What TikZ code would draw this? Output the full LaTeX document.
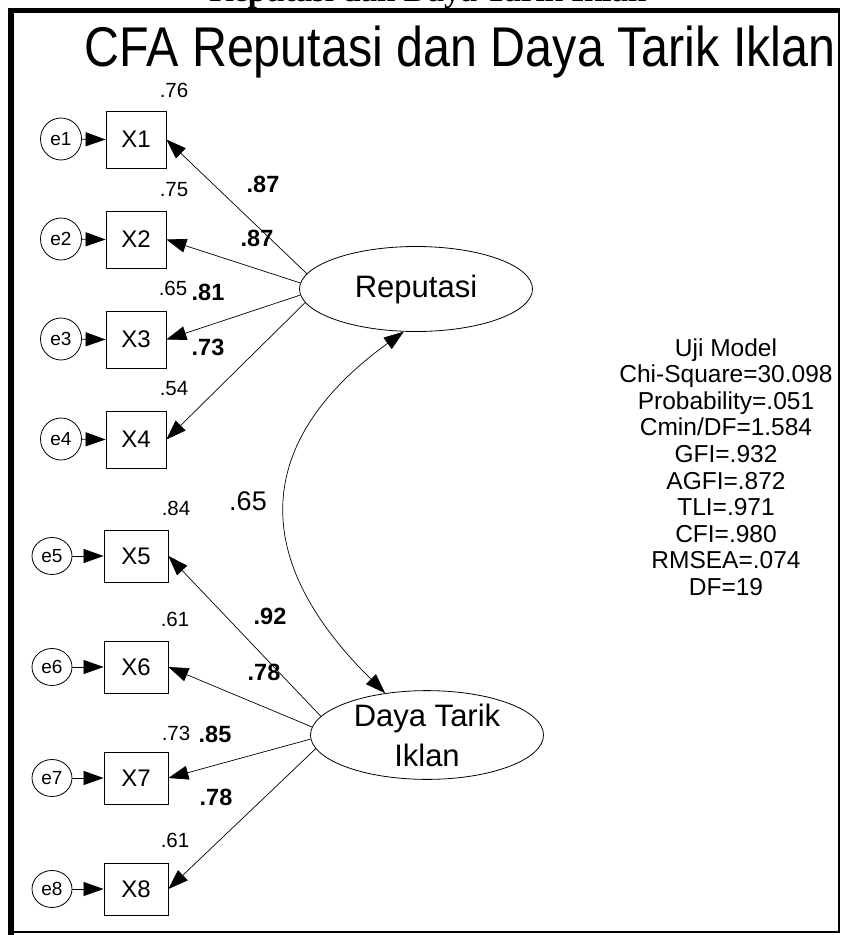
\documentclass[tikz,border=0pt]{standalone}
\usepackage{fontspec}
\setmainfont{Liberation Sans}
\newfontfamily\serifbold{Liberation Serif}
\usetikzlibrary{shapes.geometric,arrows.meta}
\begin{document}
\begin{tikzpicture}[x=1pt,y=-1pt,
  fs/.style={font=\fontsize{#1}{#1}\selectfont},
  errc/.style={draw,ellipse,inner sep=0pt,minimum width=41pt,minimum height=42pt,line width=0.8pt,fs=19},
  errl/.style={errc,minimum width=40pt,minimum height=37pt},
  obs/.style={draw,rectangle,inner sep=0pt,minimum width=60pt,minimum height=57pt,line width=0.8pt,fs=24},
  obsl/.style={obs,minimum width=64pt,minimum height=52pt},
  lat/.style={draw,ellipse,inner sep=0pt,minimum width=233pt,minimum height=85pt,line width=0.8pt,align=center,font=\fontsize{31}{40}\selectfont},
  arr/.style={line width=0.7pt,-{Triangle[length=20pt,width=14pt]}},
  cov/.style={line width=0.7pt,{Triangle[length=20pt,width=14pt]}-{Triangle[length=20pt,width=14pt]}},
  lab/.style={inner sep=0pt,fs=20.5},
  blab/.style={inner sep=0pt,font=\fontsize{23.5}{23.5}\selectfont\bfseries},
  fit/.style={inner sep=0pt,anchor=base,fs=24.5}
]
\useasboundingbox (0,0) rectangle (841,935);
% clipped heading fragment
\begin{scope}
\clip (0,0) rectangle (841,9);
\node[inner sep=0pt,anchor=base,font=\fontsize{33}{33}\serifbold\bfseries] (hdr) at (428,1.5) {Reputasi dan Daya Tarik Iklan};
\end{scope}
% frame
\draw[line width=5pt] (8,10) -- (840,10);
\draw[line width=6pt] (11,8) -- (11,935);
\draw[line width=2pt] (839,10) -- (839,933);
\draw[line width=1.5pt] (11,932) -- (840,932);
% title
\node[inner sep=0pt,anchor=base,font=\fontsize{56}{56}\selectfont] (title) at (460,66) {\scalebox{0.865}[1]{CFA Reputasi dan Daya Tarik Iklan}};
% latent
\node[lat] (Rep) at (416,289) {Reputasi};
\node[lat,minimum height=84pt] (Day) at (427,735) {Daya Tarik\\Iklan};
% top indicators
\foreach \i/\y in {1/139,2/239,3/339,4/439}{
  \node[errc] (e\i) at (61,\y) {e\i};
  \node[obs] (X\i) at (136,\y+0.5) {X\i};
  \draw[arr] (e\i) -- (X\i.west);
}
\foreach \i/\y in {5/556,6/667,7/778,8/889}{
  \node[errl] (e\i) at (52,\y) {e\i};
  \node[obsl] (X\i) at (136,\y) {X\i};
  \draw[arr] (e\i) -- (X\i.west);
}
\draw[arr] (Rep.172.8) -- (X1.east);
\draw[arr] (Rep.177) -- (X2.east);
\draw[arr] (Rep.183.5) -- (X3.east);
\draw[arr] (Rep.187) -- (X4.east);
\draw[arr] (Day.170.7) -- (X5.east);
\draw[arr] (Day.176) -- (X6.east);
\draw[arr] (Day.182) -- (X7.east);
\draw[arr] (Day.187) -- (X8.east);
% covariance
\draw[cov] (Rep.254) .. controls (272,427) and (232,542) .. (Day.135);
% labels
\node[lab] (r1) at (174,90) {.76};
\node[lab] (r2) at (174,190) {.75};
\node[lab] (r3) at (173,288) {.65};
\node[lab] (r4) at (174,389) {.54};
\node[blab] (l1) at (263,184) {.87};
\node[blab] (l2) at (257,238) {.87};
\node[blab] (l3) at (208,292) {.81};
\node[blab] (l4) at (208,347) {.73};
\node[lab] (r5) at (176,508) {.84};
\node[lab] (r6) at (175,619) {.61};
\node[lab] (r7) at (176,733) {.73};
\node[lab] (r8) at (175,840) {.61};
\node[blab] (l5) at (270,616) {.92};
\node[blab] (l6) at (264,672) {.78};
\node[blab] (l7) at (215,734) {.85};
\node[blab] (l8) at (216,797) {.78};
\node[inner sep=0pt,fs=27] (cr) at (248,501) {.65};
% fit
\foreach \t [count=\k] in {Uji Model,Chi-Square=30.098,Probability=.051,Cmin/DF=1.584,GFI=.932,AGFI=.872,TLI=.971,CFI=.980,RMSEA=.074,DF=19}{
  \node[fit] (u\k) at (726,{356+26.6*(\k-1)}) {\t};
}
\end{tikzpicture}
\end{document}
